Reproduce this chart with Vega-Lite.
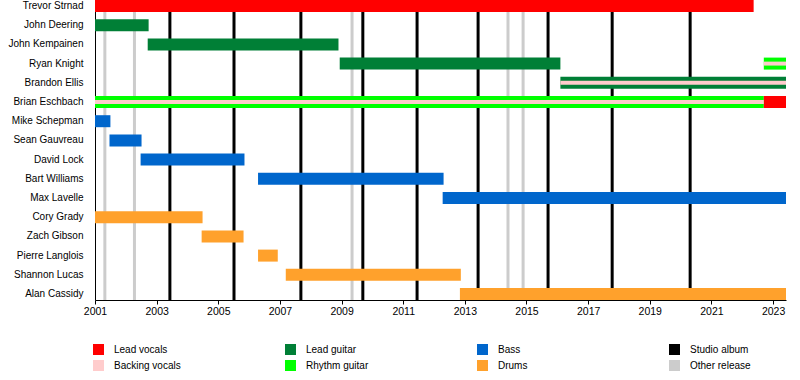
{
  "$schema": "https://vega.github.io/schema/vega-lite/v6.json",
  "width": 691,
  "height": 300,
  "autosize": {"type": "none"},
  "padding": {"left": 95, "top": 0, "right": 14, "bottom": 80},
  "background": "white",
  "config": {
    "view": {"stroke": null},
    "font": "Liberation Sans",
    "axis": {"labelFont": "Liberation Sans", "labelColor": "black", "domainColor": "black", "tickColor": "black", "grid": false, "title": null}
  },
  "datasets": {
    "spans": [
      {"member": "Trevor Strnad", "role": "Lead vocals", "start": 2001.0, "end": 2022.37},
      {"member": "John Deering", "role": "Lead guitar", "start": 2001.0, "end": 2002.74},
      {"member": "John Kempainen", "role": "Lead guitar", "start": 2002.71, "end": 2008.9},
      {"member": "Ryan Knight", "role": "Lead guitar", "start": 2008.94, "end": 2016.1},
      {"member": "Ryan Knight", "role": "Rhythm guitar", "start": 2022.7, "end": 2023.42},
      {"member": "Brandon Ellis", "role": "Lead guitar", "start": 2016.1, "end": 2023.42},
      {"member": "Brian Eschbach", "role": "Rhythm guitar", "start": 2001.0, "end": 2022.7},
      {"member": "Brian Eschbach", "role": "Lead vocals", "start": 2022.7, "end": 2023.42},
      {"member": "Mike Schepman", "role": "Bass", "start": 2001.0, "end": 2001.5},
      {"member": "Sean Gauvreau", "role": "Bass", "start": 2001.47, "end": 2002.51},
      {"member": "David Lock", "role": "Bass", "start": 2002.48, "end": 2005.85},
      {"member": "Bart Williams", "role": "Bass", "start": 2006.29, "end": 2012.31},
      {"member": "Max Lavelle", "role": "Bass", "start": 2012.28, "end": 2023.42},
      {"member": "Cory Grady", "role": "Drums", "start": 2001.0, "end": 2004.49},
      {"member": "Zach Gibson", "role": "Drums", "start": 2004.46, "end": 2005.82},
      {"member": "Pierre Langlois", "role": "Drums", "start": 2006.29, "end": 2006.93},
      {"member": "Shannon Lucas", "role": "Drums", "start": 2007.19, "end": 2012.87},
      {"member": "Alan Cassidy", "role": "Drums", "start": 2012.84, "end": 2023.42}
    ],
    "backing": [
      {"member": "Ryan Knight", "role": "Backing vocals", "start": 2022.7, "end": 2023.42},
      {"member": "Brandon Ellis", "role": "Backing vocals", "start": 2016.1, "end": 2023.42},
      {"member": "Brian Eschbach", "role": "Backing vocals", "start": 2001.0, "end": 2022.7}
    ],
    "releases": [
      {"role": "Other release", "year": 2001.32},
      {"role": "Other release", "year": 2002.28},
      {"role": "Studio album", "year": 2003.43},
      {"role": "Studio album", "year": 2005.51},
      {"role": "Studio album", "year": 2007.68},
      {"role": "Other release", "year": 2009.34},
      {"role": "Studio album", "year": 2009.69},
      {"role": "Studio album", "year": 2011.45},
      {"role": "Studio album", "year": 2013.43},
      {"role": "Other release", "year": 2014.4},
      {"role": "Other release", "year": 2014.89},
      {"role": "Studio album", "year": 2015.7},
      {"role": "Studio album", "year": 2017.78},
      {"role": "Studio album", "year": 2020.31}
    ]
  },
  "encoding": {
    "color": {
      "field": "role",
      "type": "nominal",
      "scale": {
        "domain": ["Lead vocals", "Backing vocals", "Lead guitar", "Rhythm guitar", "Bass", "Drums", "Studio album", "Other release"],
        "range": ["#FF0000", "#FFCCCC", "#007F36", "#00FF00", "#0066CC", "#FFA12C", "#000000", "#CCCCCC"]
      },
      "legend": {
        "orient": "none",
        "legendX": -2,
        "legendY": 344,
        "columns": 4,
        "title": null,
        "padding": 0,
        "gridAlign": "all",
        "columnPadding": 104,
        "rowPadding": 5,
        "symbolType": "square",
        "symbolSize": 121,
        "symbolStrokeWidth": 0,
        "symbolOpacity": 1,
        "labelFont": "Liberation Sans",
        "labelFontSize": 10,
        "labelColor": "black",
        "labelOffset": 10,
        "encode": {"symbols": {"update": {"fill": {"scale": "color", "field": "value"}, "fillOpacity": {"value": 1}, "strokeWidth": {"value": 0}}}}
      }
    }
  },
  "layer": [
    {
      "data": {"name": "releases"},
      "mark": {"type": "rule", "strokeWidth": 3},
      "encoding": {
        "x": {"field": "year", "type": "quantitative"}
      }
    },
    {
      "data": {"name": "spans"},
      "mark": {"type": "bar", "cornerRadius": 0},
      "encoding": {
        "y": {
          "field": "member", "type": "nominal",
          "sort": ["Trevor Strnad", "John Deering", "John Kempainen", "Ryan Knight", "Brandon Ellis", "Brian Eschbach", "Mike Schepman", "Sean Gauvreau", "David Lock", "Bart Williams", "Max Lavelle", "Cory Grady", "Zach Gibson", "Pierre Langlois", "Shannon Lucas", "Alan Cassidy"],
          "scale": {"paddingInner": 0.375, "paddingOuter": 0},
          "axis": {"ticks": false, "labelPadding": 12, "labelFontSize": 10, "domainColor": "black", "domainWidth": 1}
        },
        "x": {
          "field": "start", "type": "quantitative",
          "scale": {"domain": [2001, 2023.42], "nice": false, "zero": false},
          "axis": {
            "values": [2001, 2002, 2003, 2004, 2005, 2006, 2007, 2008, 2009, 2010, 2011, 2012, 2013, 2014, 2015, 2016, 2017, 2018, 2019, 2020, 2021, 2022, 2023],
            "format": "d",
            "labelExpr": "datum.value % 2 == 1 ? datum.label : ''",
            "tickSize": 4,
            "labelPadding": 2,
            "labelFontSize": 10.5,
            "labelFlush": false,
            "labelOverlap": false
          }
        },
        "x2": {"field": "end"}
      }
    },
    {
      "data": {"name": "backing"},
      "mark": {"type": "bar", "height": {"band": 0.33}},
      "encoding": {
        "y": {
          "field": "member", "type": "nominal",
          "sort": ["Trevor Strnad", "John Deering", "John Kempainen", "Ryan Knight", "Brandon Ellis", "Brian Eschbach", "Mike Schepman", "Sean Gauvreau", "David Lock", "Bart Williams", "Max Lavelle", "Cory Grady", "Zach Gibson", "Pierre Langlois", "Shannon Lucas", "Alan Cassidy"]
        },
        "x": {"field": "start", "type": "quantitative"},
        "x2": {"field": "end"}
      }
    }
  ]
}
